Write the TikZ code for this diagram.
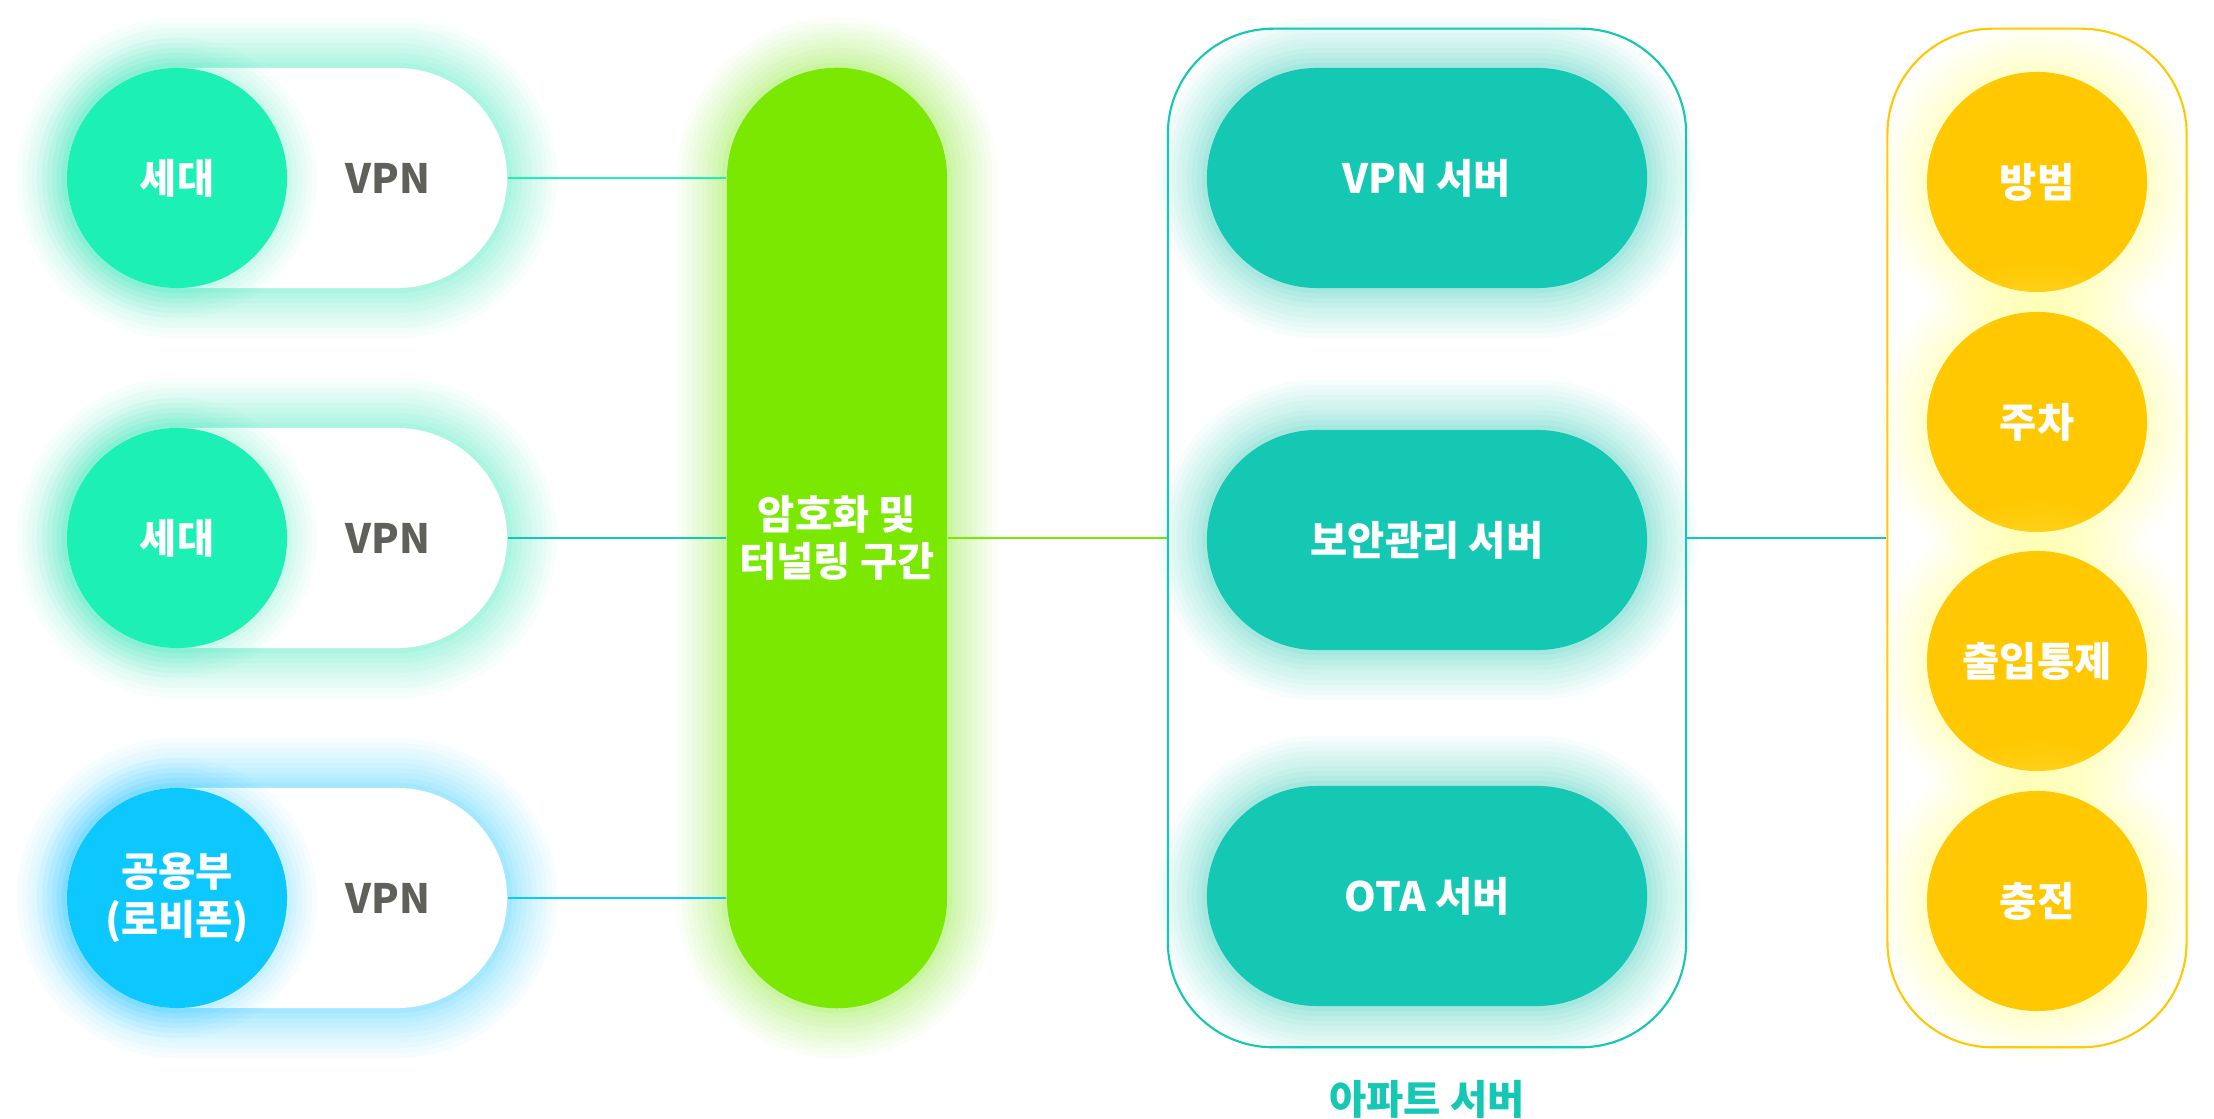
\documentclass[tikz,border=0pt]{standalone}
\usepackage{fontspec}
\setmainfont{Noto Sans CJK KR}
\usepackage{tikz}
\definecolor{mint}{HTML}{1DF0B5}
\definecolor{sky}{HTML}{0DC8FF}
\definecolor{lime}{HTML}{7AE800}
\definecolor{aptteal}{HTML}{14C8B4}
\definecolor{amber}{HTML}{FFC800}
\definecolor{paleyellow}{HTML}{FFFF80}
\definecolor{vpngray}{HTML}{5F605A}
\tikzset{
  font={\fontsize{11.5pt}{13.6pt}\selectfont\bfseries}}
\tikzset{
  glow/.style={
    preaction={draw=#1,draw opacity=.03,line width=10mm},
    preaction={draw=#1,draw opacity=.03,line width=9mm},
    preaction={draw=#1,draw opacity=.035,line width=8mm},
    preaction={draw=#1,draw opacity=.035,line width=7mm},
    preaction={draw=#1,draw opacity=.04,line width=6mm},
    preaction={draw=#1,draw opacity=.04,line width=5mm},
    preaction={draw=#1,draw opacity=.045,line width=4mm},
    preaction={draw=#1,draw opacity=.05,line width=3mm},
    preaction={draw=#1,draw opacity=.06,line width=2mm},
    preaction={draw=#1,draw opacity=.07,line width=1mm}},
  softglow/.style={
    preaction={draw=#1,draw opacity=.03,line width=6mm},
    preaction={draw=#1,draw opacity=.03,line width=5mm},
    preaction={draw=#1,draw opacity=.035,line width=4mm},
    preaction={draw=#1,draw opacity=.04,line width=3mm},
    preaction={draw=#1,draw opacity=.05,line width=2mm},
    preaction={draw=#1,draw opacity=.06,line width=1mm}},
  pill/.style={rectangle,rounded corners=11mm,minimum width=44mm,minimum height=22mm,fill=#1},
  ball/.style={circle,minimum size=22mm,fill=#1,text=white},
  link/.style={draw=#1,line width=0.6pt}
}

\begin{document}
\begin{tikzpicture}[x=0.01cm,y=-0.01cm]
\tikzstyle{every node}+=[inner sep=0pt]
\useasboundingbox (0,0) rectangle (2214,1119);
\fill [white] (0,0) rectangle (2214,1119);
\node [pill=white,glow=mint] (p1) at (287,178) {};
\node [ball=mint,softglow=mint] (h1) at (177,178) {세대};
\node [text=vpngray] (v1) at (388,178) {VPN};
\node [pill=white,glow=mint] (p2) at (287,538) {};
\node [ball=mint,softglow=mint] (h2) at (177,538) {세대};
\node [text=vpngray] (v2) at (388,538) {VPN};
\node [pill=white,glow=sky] (p3) at (287,898) {};
\node [ball=sky,softglow=sky,align=center] (lobby) at (177,898) {공용부\\(로비폰)};
\node [text=vpngray] (v3) at (388,898) {VPN};
\node [pill=lime,glow=lime,minimum width=22mm,minimum height=94mm,text=white,align=center] (tun) at (837,538) {암호화 및\\터널링 구간};
\draw [link=mint] (p1.east) -- (p1.east -| tun.west);
\draw [link=aptteal] (p2.east) -- (p2.east -| tun.west);
\draw [link=sky] (p3.east) -- (p3.east -| tun.west);
\node [draw=aptteal,line width=0.6pt,rounded corners=10.5mm,minimum width=51.8mm,minimum height=101.8mm] (apt) at (1427,538) {};
\draw [link=lime] (tun.east) -- (apt.west);
\node [pill=aptteal,glow=aptteal,text=white] (vpnsrv) at (1427,178) {VPN 서버};
\node [pill=aptteal,glow=aptteal,text=white] (secsrv) at (1427,540) {보안관리 서버};
\node [pill=aptteal,glow=aptteal,text=white] (otasrv) at (1427,896) {OTA 서버};
\node [text=aptteal] (aptlabel) at (1427,1099) {아파트 서버};
\node [draw=amber,line width=0.6pt,rounded corners=10.5mm,minimum width=29.9mm,minimum height=101.8mm] (yard) at (2037,538) {};
\draw [link=aptteal] (apt.east) -- (yard.west);
\node [ball=amber,glow=paleyellow] (guard) at (2037,182) {방범};
\node [ball=amber,glow=paleyellow] (park) at (2037,422) {주차};
\node [ball=amber,glow=paleyellow] (gate) at (2037,661) {출입통제};
\node [ball=amber,glow=paleyellow] (charge) at (2037,901) {충전};
\end{tikzpicture}
\end{document}
